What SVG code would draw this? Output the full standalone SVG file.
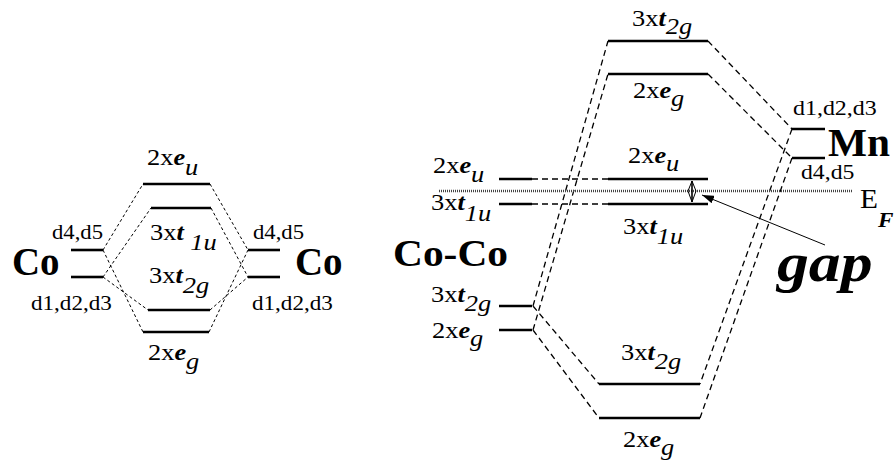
<svg xmlns="http://www.w3.org/2000/svg" width="896" height="464" viewBox="0 0 896 464">
<defs>
<style>
text{font-family:"Liberation Serif","Times New Roman",serif;fill:#000}
.lbl{font-size:24px}
.d{font-size:21px}
.big{font-size:41px;font-weight:bold}
.bi{font-weight:bold;font-style:italic}
.it{font-style:italic}
.lvl{stroke:#000;stroke-width:2.6;fill:none}
.dl{stroke:#000;stroke-width:1;stroke-dasharray:3 2.5;fill:none}
.dr{stroke:#000;stroke-width:1.3;stroke-dasharray:6 4;fill:none}
.ef{stroke:#444;stroke-width:2.4;stroke-dasharray:1 1;fill:none}
</style>
<marker id="ah" viewBox="0 0 12 8" refX="12" refY="4" markerWidth="12" markerHeight="8" markerUnits="userSpaceOnUse" orient="auto">
<path d="M0,0 L12,4 L0,8 Z" fill="#000"/>
</marker>
</defs>
<rect width="896" height="464" fill="#fff"/>

<!-- connectors -->
<g id="connectors">
<path class="dl" d="M103,250 L143,184 M103,250 L143,332 M103,277 L151,208 M103,277 L148,310"/>
<path class="dl" d="M210,184 L248,250 M209,332 L248,250 M211,208 L248,277 M210,310 L248,277"/>
<path class="dr" d="M532,179 L608,179 M532,204 L608,204"/>
<path class="dr" d="M533,306 L608,41 M533,330 L608,74 M533,306 L599,384 M533,330 L599,418"/>
<path class="dr" d="M708,41 L792,129 M708,74 L792,158 M792,129 L700,384 M792,158 L700,418"/>
<line class="ef" x1="439" y1="191" x2="853" y2="191"/>
<g id="gap-arrow">
<line x1="692" y1="181" x2="692" y2="202" stroke="#000" stroke-width="1.6"/>
<path d="M692,181 L688,191 L692,202 L696,191 Z" fill="none" stroke="#000" stroke-width="1"/>
</g>
<line x1="825" y1="245" x2="702" y2="195" stroke="#000" stroke-width="1" marker-end="url(#ah)"/>
</g>

<!-- Left diagram -->
<g id="co-left">
<text class="big" transform="translate(12,275) scale(0.95,1)">Co</text>
<line class="lvl" x1="71" y1="250" x2="103" y2="250"/>
<line class="lvl" x1="71" y1="277" x2="103" y2="277"/>
<text class="d" transform="translate(52,239) scale(1.08,1)">d4,d5</text>
<text class="d" transform="translate(31,310) scale(1.1,1)">d1,d2,d3</text>
</g>
<g id="co-right">
<text class="big" transform="translate(295,275) scale(0.95,1)">Co</text>
<line class="lvl" x1="248" y1="250" x2="280" y2="250"/>
<line class="lvl" x1="248" y1="277" x2="280" y2="277"/>
<text class="d" transform="translate(253,239) scale(1.08,1)">d4,d5</text>
<text class="d" transform="translate(252,310) scale(1.1,1)">d1,d2,d3</text>
</g>
<g id="l-eu">
<line class="lvl" x1="143" y1="184" x2="210" y2="184"/>
<text class="lbl" transform="translate(147,165) scale(1.1,1)">2x<tspan class="bi">e</tspan><tspan class="it" dy="10">u</tspan></text>
</g>
<g id="l-t1u">
<line class="lvl" x1="151" y1="208" x2="211" y2="208"/>
<text class="lbl" transform="translate(150,240) scale(1.1,1)">3x<tspan class="bi">t</tspan><tspan class="it" dx="6" dy="10">1u</tspan></text>
</g>
<g id="l-t2g">
<line class="lvl" x1="148" y1="310" x2="210" y2="310"/>
<text class="lbl" transform="translate(149,283) scale(1.1,1)">3x<tspan class="bi">t</tspan><tspan class="it" dy="10">2g</tspan></text>
</g>
<g id="l-eg">
<line class="lvl" x1="143" y1="332" x2="209" y2="332"/>
<text class="lbl" transform="translate(148,360) scale(1.1,1)">2x<tspan class="bi">e</tspan><tspan class="it" dy="9">g</tspan></text>
</g>

<!-- Right diagram -->
<g id="coco">
<text class="big" style="font-size:37px" transform="translate(393,266) scale(1.12,1)">Co-Co</text>
<line class="lvl" x1="499" y1="179" x2="532" y2="179"/>
<line class="lvl" x1="499" y1="204" x2="532" y2="204"/>
<line class="lvl" x1="499" y1="306" x2="532" y2="306"/>
<line class="lvl" x1="499" y1="330" x2="532" y2="330"/>
<text class="lbl" transform="translate(433,173) scale(1.1,1)">2x<tspan class="bi">e</tspan><tspan class="it" dy="9">u</tspan></text>
<text class="lbl" transform="translate(431,210) scale(1.1,1)">3x<tspan class="bi">t</tspan><tspan class="it" dy="11">1u</tspan></text>
<text class="lbl" transform="translate(431,302) scale(1.1,1)">3x<tspan class="bi">t</tspan><tspan class="it" dy="9">2g</tspan></text>
<text class="lbl" transform="translate(432,338) scale(1.1,1)">2x<tspan class="bi">e</tspan><tspan class="it" dy="8">g</tspan></text>
</g>
<g id="mn">
<line class="lvl" x1="792" y1="129" x2="825" y2="129"/>
<line class="lvl" x1="792" y1="158" x2="825" y2="158"/>
<text class="big" style="font-size:39px" transform="translate(828,156) scale(1.06,1)">Mn</text>
<text class="d" transform="translate(793,115) scale(1.14,1)">d1,d2,d3</text>
<text class="d" transform="translate(801,179) scale(1.13,1)">d4,d5</text>
</g>
<g id="r-t2g-top">
<line class="lvl" x1="608" y1="41" x2="708" y2="41"/>
<text class="lbl" transform="translate(632,26) scale(1.1,1)">3x<tspan class="bi">t</tspan><tspan class="it" dy="8">2g</tspan></text>
</g>
<g id="r-eg-top">
<line class="lvl" x1="608" y1="74" x2="708" y2="74"/>
<text class="lbl" transform="translate(633,98) scale(1.1,1)">2x<tspan class="bi">e</tspan><tspan class="it" dy="8">g</tspan></text>
</g>
<g id="r-eu">
<line class="lvl" x1="608" y1="179" x2="708" y2="179"/>
<text class="lbl" transform="translate(628,163) scale(1.1,1)">2x<tspan class="bi">e</tspan><tspan class="it" dy="8">u</tspan></text>
</g>
<g id="r-t1u">
<line class="lvl" x1="608" y1="204" x2="708" y2="204"/>
<text class="lbl" transform="translate(623,234) scale(1.1,1)">3x<tspan class="bi">t</tspan><tspan class="it" dy="10">1u</tspan></text>
</g>
<g id="r-t2g-bot">
<line class="lvl" x1="599" y1="384" x2="700" y2="384"/>
<text class="lbl" transform="translate(621,360) scale(1.1,1)">3x<tspan class="bi">t</tspan><tspan class="it" dy="9">2g</tspan></text>
</g>
<g id="r-eg-bot">
<line class="lvl" x1="599" y1="418" x2="700" y2="418"/>
<text class="lbl" transform="translate(623,447) scale(1.1,1)">2x<tspan class="bi">e</tspan><tspan class="it" dy="8">g</tspan></text>
</g>
<g id="ef">
<text style="font-size:28px" transform="translate(860,208) scale(1.05,1)">E<tspan class="bi" style="font-size:22px" dy="19">F</tspan></text>
</g>
<g id="gap">
<text class="bi" style="font-size:54px" transform="translate(777,281) scale(1.18,1)">gap</text>
</g>
</svg>
